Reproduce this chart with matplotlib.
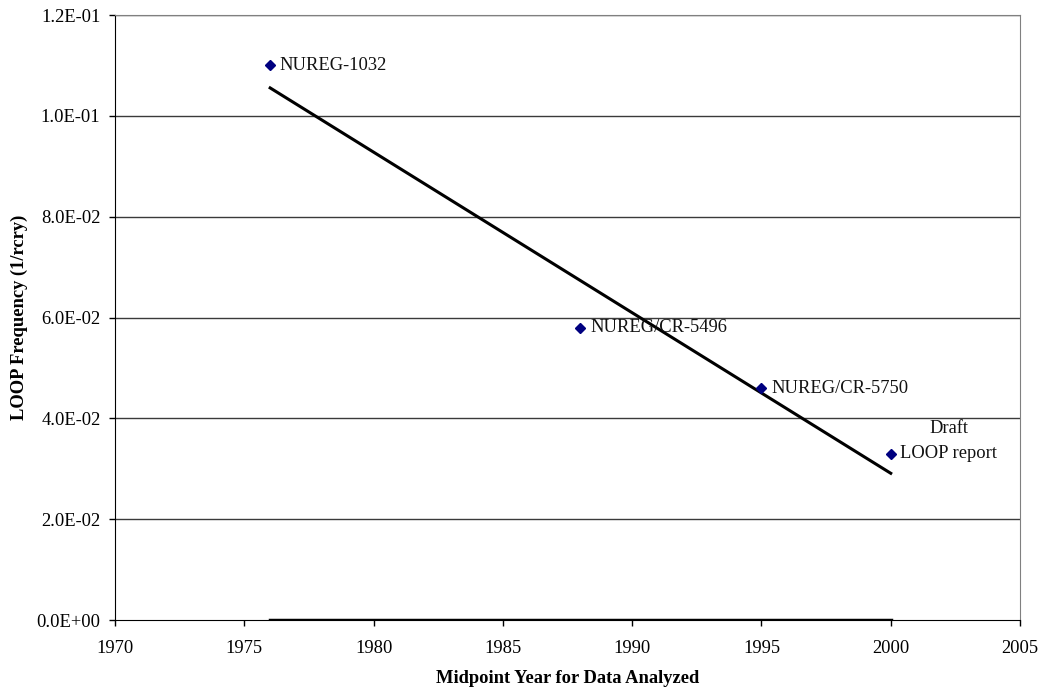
import matplotlib

matplotlib.use("Agg")

import matplotlib.pyplot as plt
import numpy as np
from matplotlib.ticker import FuncFormatter

plt.rcParams["font.family"] = ["Liberation Serif", "DejaVu Serif"]

years = [1976, 1988, 1995, 2000]
loop_freq = [0.110, 0.058, 0.046, 0.033]
point_labels = ["NUREG-1032", "NUREG/CR-5496", "NUREG/CR-5750", "Draft\nLOOP report"]
zero_series = [0.0, 0.0, 0.0, 0.0]

x_ticks = [1970, 1975, 1980, 1985, 1990, 1995, 2000, 2005]
y_ticks = [0.0, 0.02, 0.04, 0.06, 0.08, 0.10, 0.12]

FONT_SIZE = 13.3


def _sci(value, _pos):
    mant, exp = f"{value:.1E}".split("E")
    sign = exp[0]
    return f"{mant}E{sign}{abs(int(exp)):02d}"


figure = plt.figure(figsize=(10.4, 6.92), dpi=100)
axis = figure.add_axes([0.1106, 0.104, 0.8702, 0.8743])

for y in y_ticks[1:]:
    axis.axhline(y, color="#3a3a3a", linewidth=1.0, zorder=0)

# linear trendline through the reported points
slope, intercept = np.polyfit(years, loop_freq, 1)
trend_x = np.array([years[0], years[-1]])
axis.plot(trend_x, slope * trend_x + intercept, color="black", linewidth=2.2, zorder=2)

axis.plot(years, zero_series, color="black", linewidth=2.5, zorder=2)
axis.plot(years, loop_freq, linestyle="none", marker="D", markersize=5.5,
          color="#000080", zorder=3)

for year, value, label in zip(years, loop_freq, point_labels):
    if "\n" in label:
        top, bottom = label.split("\n")
        axis.annotate(bottom, (year, value), xytext=(7, 0), textcoords="offset points",
                      va="center", ha="left", fontsize=FONT_SIZE, color="#111111")
        axis.annotate(top, (year, value), xytext=(42, 18), textcoords="offset points",
                      va="center", ha="center", fontsize=FONT_SIZE, color="#111111")
    else:
        axis.annotate(label, (year, value), xytext=(7, 0), textcoords="offset points",
                      va="center", ha="left", fontsize=FONT_SIZE, color="#111111")

axis.set_xlim(1970, 2005)
axis.set_ylim(0, 0.12)
axis.set_xticks(x_ticks)
axis.set_yticks(y_ticks)
axis.yaxis.set_major_formatter(FuncFormatter(_sci))
axis.tick_params(axis="both", direction="out", length=4.5, width=1, labelsize=FONT_SIZE)
axis.tick_params(axis="y", pad=6)
axis.tick_params(axis="x", pad=10)

axis.spines["left"].set_color("black")
axis.spines["bottom"].set_color("black")
axis.spines["top"].set_color("#808080")
axis.spines["right"].set_color("#808080")

axis.set_xlabel("Midpoint Year for Data Analyzed", fontweight="bold", fontsize=FONT_SIZE, labelpad=9)
axis.set_ylabel("LOOP Frequency (1/rcry)", fontweight="bold", fontsize=FONT_SIZE, labelpad=6)

figure.savefig("out.png", dpi=100)
plt.close(figure)
